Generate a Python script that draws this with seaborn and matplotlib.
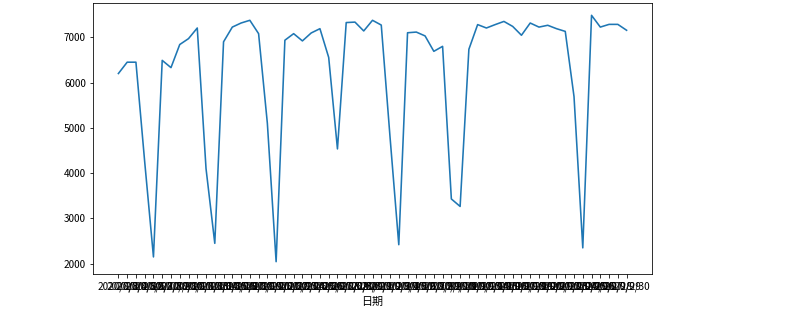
import matplotlib
matplotlib.use("Agg")
import matplotlib.pyplot as plt
import seaborn as sns
import pandas as pd

dates = (["2020/8/%d" % d for d in range(3, 32)] +
         ["2020/9/%d" % d for d in range(1, 31)])

values = [6200, 6450, 6450, 4250, 2150, 6490, 6330, 6840, 6970, 7205,
          4100, 2450, 6900, 7225, 7315, 7375, 7080, 5100, 2045, 6935,
          7080, 6920, 7095, 7190, 6555, 4535, 7325, 7335, 7140, 7375,
          7270, 4800, 2420, 7100, 7115, 7030, 6690, 6800, 3430, 3265,
          6735, 7280, 7205, 7280, 7350, 7240, 7045, 7315, 7225, 7265,
          7190, 7130, 5690, 2350, 7485, 7225, 7285, 7285, 7155]

df = pd.DataFrame({"日期": dates, "value": values})

fig = plt.figure(figsize=(791 / 72, 317 / 72), dpi=72)
ax = fig.add_axes([93 / 791, 1 - 274 / 317, (652 - 93) / 791, (274 - 3) / 317])
plt.rcParams['font.family'] = ['Noto Sans CJK SC', 'DejaVu Sans']

sns.lineplot(data=df, x="日期", y="value", ax=ax, color="#1f77b4", linewidth=1.6)
ax.set_ylabel("")
ax.set_xlabel("日期", fontsize=11, labelpad=5, family=['Noto Sans CJK SC', 'DejaVu Sans'])
for lab in ax.get_xticklabels() + ax.get_yticklabels():
    lab.set_fontsize(10)
    lab.set_family(['Noto Sans CJK SC', 'DejaVu Sans'])

fig.savefig("out.png", dpi=72)
